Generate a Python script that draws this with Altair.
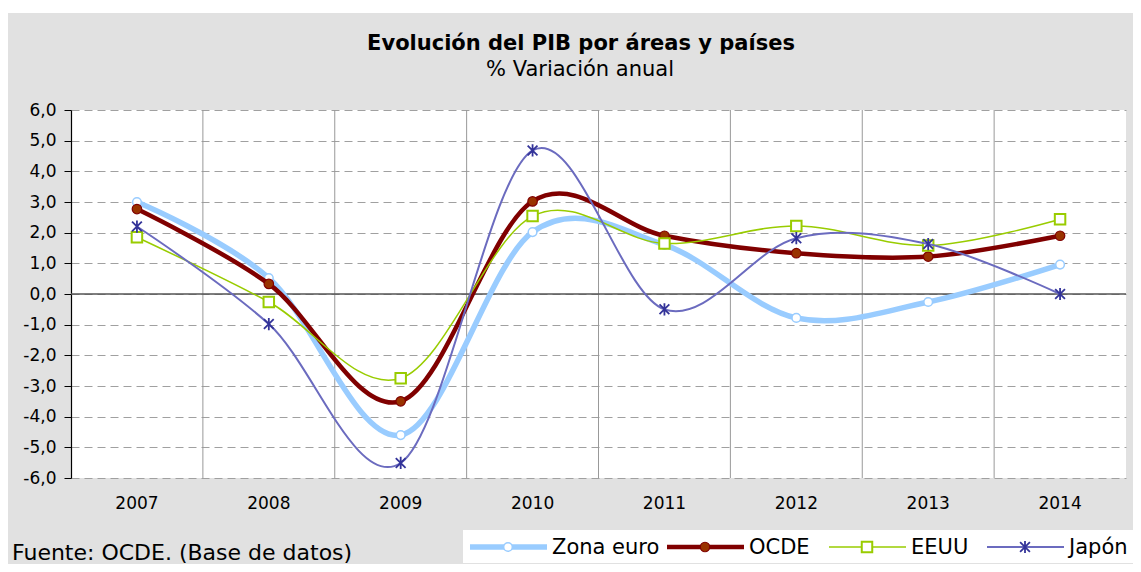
import altair as alt
import pandas as pd

# ---- data ----
years = ["2007", "2008", "2009", "2010", "2011", "2012", "2013", "2014"]
zona_euro = [3.0, 0.52, -4.6, 2.02, 1.6, -0.78, -0.26, 0.96]
ocde = [2.77, 0.33, -3.5, 3.02, 1.9, 1.33, 1.22, 1.9]
eeuu = [1.85, -0.26, -2.75, 2.54, 1.65, 2.22, 1.58, 2.44]
japon = [2.2, -0.98, -5.51, 4.68, -0.5, 1.82, 1.63, 0.0]
series_names = ["Zona euro", "OCDE", "EEUU", "Japón"]
y_ticks = [-6, -5, -4, -3, -2, -1, 0, 1, 2, 3, 4, 5, 6]
title_text = "Evolución del PIB por áreas y países"
subtitle_text = "% Variación anual"
source_text = "Fuente: OCDE. (Base de datos)"

values_by_series = dict(zip(series_names, [zona_euro, ocde, eeuu, japon]))
rows = []
for name, vals in values_by_series.items():
    for yr, v in zip(years, vals):
        rows.append({"serie": name, "year": yr, "value": v})
df = pd.DataFrame(rows)

FONT = "DejaVu Sans"
W, H = 1055, 368

asterisk = "M0,-1L0,1M-0.8,-0.8L0.8,0.8M-0.8,0.8L0.8,-0.8"

styles = {
    "Zona euro": dict(color="#99ccff", width=5.5, shape="circle", size=75,
                      fill="white", stroke="#99ccff", sw=1.5, filled=True),
    "OCDE": dict(color="#800000", width=4.5, shape="circle", size=90,
                 fill="#993300", stroke="#800000", sw=1.2, filled=True),
    "EEUU": dict(color="#99cc00", width=1.5, shape="square", size=110,
                 fill="white", stroke="#99cc00", sw=2, filled=True),
    "Japón": dict(color="#6b6bbf", width=2.0, shape=asterisk, size=150,
                  fill="transparent", stroke="#333399", sw=1.8, filled=False),
}

xscale = alt.Scale(domain=years, type="band", paddingInner=0, paddingOuter=0)
xaxis = alt.Axis(title=None, labelAngle=0, labelAlign="center", domain=False,
                 ticks=False, grid=False, labelFontSize=17, labelPadding=17,
                 labelColor="black", labelFont=FONT)
yscale = alt.Scale(domain=[-6, 6], nice=False, zero=False)
yaxis = alt.Axis(title=None, values=y_ticks, labelOverlap=False,
                 labelExpr="(datum.value < 0 ? '-' : '') + abs(datum.value) + ',0'",
                 grid=True, gridDash=[8, 5], gridColor="#a0a0a0",
                 gridWidth=1, domainColor="black", domainWidth=1.2,
                 tickColor="black", tickSize=7, labelPadding=8,
                 labelFontSize=17, labelColor="black", labelFont=FONT)
X = alt.X("year:O", scale=xscale, bandPosition=0.5, axis=xaxis)
Y = alt.Y("value:Q", scale=yscale, axis=yaxis)

layers = []

# white strip at the very top, as in the reference
layers.append(alt.Chart(pd.DataFrame({"k": [0]})).mark_rect(fill="white").encode(
    x=alt.value(-63), x2=alt.value(1062), y=alt.value(-102), y2=alt.value(-97)))

# vertical grid lines at the category boundaries
vgrid = alt.Chart(pd.DataFrame({"year": years[1:]})).mark_rule(
    color="#999999", strokeWidth=1
).encode(x=alt.X("year:O", scale=xscale, bandPosition=0, axis=xaxis))
layers.append(vgrid)

# zero line
zero = alt.Chart(pd.DataFrame({"value": [0]})).mark_rule(
    color="#555555", strokeWidth=1.5
).encode(y=Y)
layers.append(zero)

for name in series_names:
    s = styles[name]
    base = alt.Chart(df).transform_filter(alt.datum.serie == name)
    line = base.mark_line(interpolate="cardinal", tension=0, color=s["color"],
                          strokeWidth=s["width"]).encode(x=X, y=Y)
    pts = base.mark_point(shape=s["shape"], size=s["size"], filled=s["filled"],
                          fill=s["fill"], stroke=s["stroke"],
                          strokeWidth=s["sw"], opacity=1).encode(x=X, y=Y)
    layers += [line, pts]

# ---- manual legend (bottom right) ----
leg_box = alt.Chart(pd.DataFrame({"k": [0]})).mark_rect(fill="white").encode(
    x=alt.value(392), x2=alt.value(1062), y=alt.value(420), y2=alt.value(453))
layers.append(leg_box)

leg_x = {"Zona euro": 399, "OCDE": 596, "EEUU": 758, "Japón": 916}
leg_y = 437
for name in series_names:
    s = styles[name]
    x0 = leg_x[name]
    d = pd.DataFrame({"serie": [name]})
    layers.append(alt.Chart(d).mark_rule(color=s["color"], strokeWidth=s["width"]).encode(
        x=alt.value(x0), x2=alt.value(x0 + 77), y=alt.value(leg_y)))
    layers.append(alt.Chart(d).mark_point(
        shape=s["shape"], size=s["size"], filled=s["filled"],
        fill=s["fill"], stroke=s["stroke"], strokeWidth=s["sw"], opacity=1).encode(
        x=alt.value(x0 + 38), y=alt.value(leg_y)))
    layers.append(alt.Chart(d).mark_text(
        align="left", baseline="middle", font=FONT, fontSize=21, color="black").encode(
        x=alt.value(x0 + 82), y=alt.value(leg_y + 1), text="serie:N"))

# ---- titles and source ----
layers.append(alt.Chart(pd.DataFrame({"t": [title_text]})).mark_text(
    align="center", baseline="alphabetic", font=FONT, fontSize=21,
    fontWeight="bold", color="black").encode(
    x=alt.value(510), y=alt.value(-60), text="t:N"))
layers.append(alt.Chart(pd.DataFrame({"t": [subtitle_text]})).mark_text(
    align="center", baseline="alphabetic", font=FONT, fontSize=21,
    color="black").encode(x=alt.value(509), y=alt.value(-34), text="t:N"))
layers.append(alt.Chart(pd.DataFrame({"t": [source_text]})).mark_text(
    align="left", baseline="alphabetic", font=FONT, fontSize=22,
    color="black").encode(x=alt.value(-59), y=alt.value(450), text="t:N"))

chart = alt.layer(*layers).properties(
    width=W, height=H,
    padding={"left": 63, "top": 102, "right": 7, "bottom": 86},
    autosize=alt.AutoSizeParams(type="none"),
).configure(background="#e1e1e1", font=FONT).configure_view(
    fill="white", stroke=None)

chart.save("out.html", embed_options={"renderer": "svg", "actions": False})
